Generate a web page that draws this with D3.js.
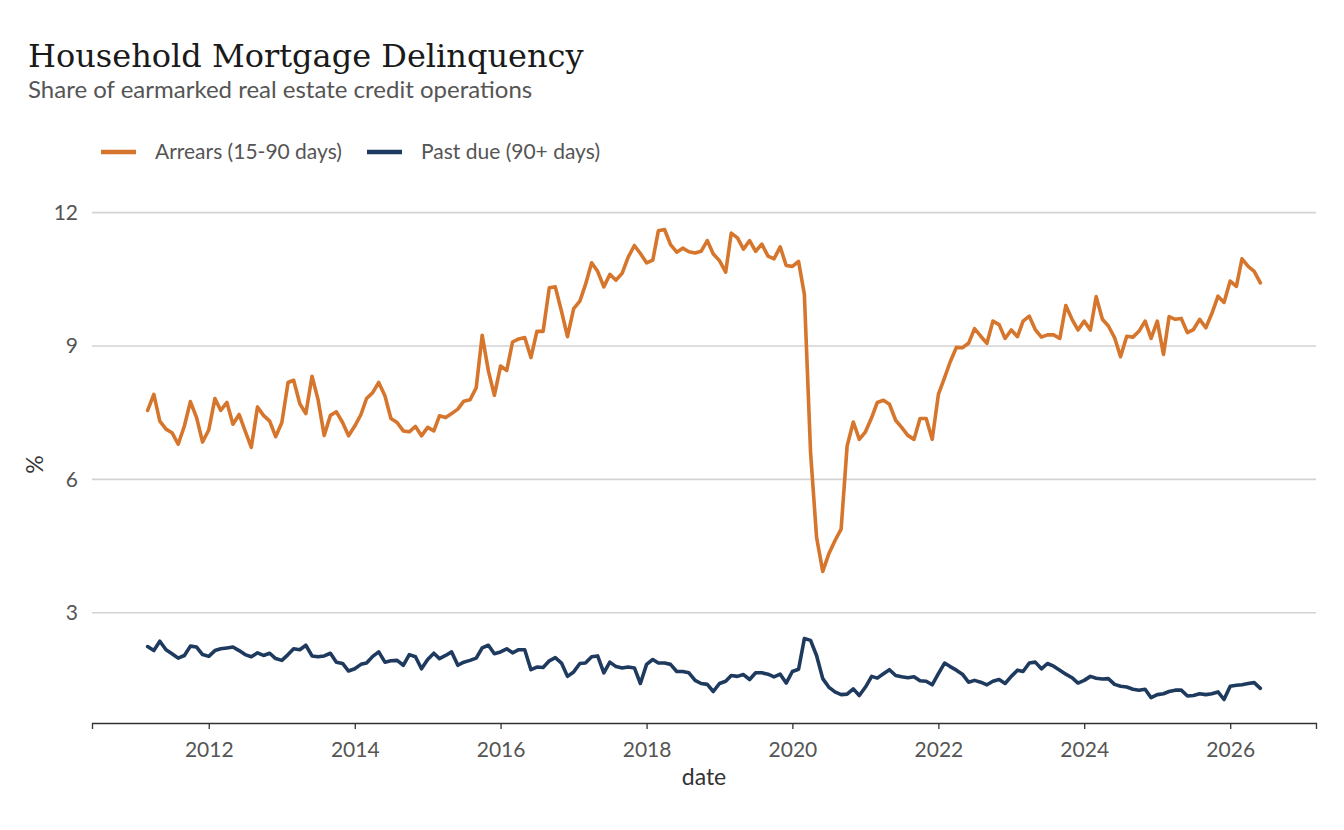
<!DOCTYPE html>
<html>
<head>
<meta charset="utf-8">
<script src="https://cdn.jsdelivr.net/npm/d3@7"></script>
<style>
  body { margin: 0; background: #fff; }
  svg { display: block; }
  .axis text { font-family: Lato, sans-serif; fill: #555; }
</style>
</head>
<body>
<div id="chart"></div>
<script>
/* DATA - monthly, Mar 2011 to Jun 2026 */
const firstMonth = new Date(2011, 2, 1);
const lastMonth = new Date(2026, 5, 1);

const arrears = [
  7.55, 7.91, 7.31, 7.13, 7.05, 6.79, 7.20, 7.75, 7.39, 6.84, 7.11, 7.82,
  7.55, 7.73, 7.24, 7.46, 7.09, 6.72, 7.63, 7.44, 7.31, 6.96, 7.28, 8.18,
  8.23, 7.70, 7.48, 8.32, 7.80, 6.99, 7.44, 7.52, 7.28, 6.98, 7.20, 7.46,
  7.82, 7.95, 8.18, 7.88, 7.37, 7.28, 7.09, 7.07, 7.19, 6.98, 7.17, 7.09,
  7.43, 7.39, 7.48, 7.58, 7.76, 7.79, 8.06, 9.24, 8.44, 7.89, 8.55, 8.45,
  9.09, 9.16, 9.19, 8.74, 9.33, 9.33, 10.31, 10.33, 9.78, 9.21, 9.84, 10.01,
  10.38, 10.87, 10.68, 10.33, 10.61, 10.48, 10.64, 11.00, 11.26, 11.08, 10.87, 10.93,
  11.59, 11.62, 11.28, 11.11, 11.20, 11.12, 11.09, 11.13, 11.37, 11.07, 10.92, 10.66,
  11.54, 11.43, 11.18, 11.37, 11.13, 11.29, 11.02, 10.96, 11.23, 10.81, 10.79, 10.90,
  10.16, 6.61, 4.70, 3.93, 4.32, 4.62, 4.88, 6.75, 7.29, 6.90, 7.07, 7.39,
  7.73, 7.78, 7.69, 7.33, 7.17, 6.99, 6.90, 7.37, 7.37, 6.90, 7.91, 8.29,
  8.64, 8.97, 8.96, 9.06, 9.39, 9.22, 9.06, 9.56, 9.48, 9.17, 9.36, 9.21,
  9.56, 9.67, 9.37, 9.20, 9.25, 9.25, 9.17, 9.91, 9.60, 9.36, 9.56, 9.36,
  10.11, 9.60, 9.45, 9.19, 8.76, 9.22, 9.20, 9.33, 9.56, 9.17, 9.56, 8.81,
  9.66, 9.60, 9.62, 9.30, 9.37, 9.60, 9.41, 9.73, 10.12, 9.98, 10.46, 10.34,
  10.96, 10.79, 10.68, 10.42
];

const pastDue = [
  2.24, 2.15, 2.36, 2.17, 2.08, 1.98, 2.04, 2.25, 2.23, 2.06, 2.02, 2.15,
  2.19, 2.21, 2.23, 2.15, 2.06, 2.01, 2.10, 2.04, 2.09, 1.97, 1.93, 2.06,
  2.19, 2.17, 2.27, 2.03, 2.01, 2.03, 2.09, 1.89, 1.86, 1.69, 1.74, 1.84,
  1.87, 2.02, 2.12, 1.89, 1.92, 1.93, 1.82, 2.06, 2.01, 1.74, 1.95, 2.09,
  1.97, 2.04, 2.12, 1.82, 1.89, 1.93, 1.98, 2.21, 2.27, 2.08, 2.12, 2.19,
  2.10, 2.17, 2.17, 1.72, 1.78, 1.77, 1.92, 1.99, 1.87, 1.57, 1.67, 1.86,
  1.87, 2.01, 2.03, 1.65, 1.89, 1.79, 1.76, 1.78, 1.76, 1.41, 1.84, 1.95,
  1.87, 1.87, 1.84, 1.68, 1.68, 1.65, 1.48, 1.41, 1.39, 1.23, 1.41, 1.46,
  1.59, 1.57, 1.61, 1.50, 1.65, 1.65, 1.62, 1.56, 1.62, 1.42, 1.68, 1.73,
  2.42, 2.38, 2.04, 1.52, 1.33, 1.22, 1.16, 1.17, 1.29, 1.14, 1.33, 1.57,
  1.53, 1.63, 1.72, 1.59, 1.56, 1.54, 1.56, 1.47, 1.46, 1.38, 1.63, 1.87,
  1.79, 1.71, 1.62, 1.44, 1.48, 1.44, 1.38, 1.46, 1.50, 1.41, 1.57, 1.71,
  1.68, 1.87, 1.89, 1.74, 1.86, 1.80, 1.71, 1.62, 1.54, 1.42, 1.48, 1.57,
  1.53, 1.51, 1.52, 1.39, 1.35, 1.33, 1.28, 1.26, 1.28, 1.09, 1.16, 1.18,
  1.23, 1.26, 1.26, 1.13, 1.14, 1.18, 1.16, 1.18, 1.22, 1.05, 1.35, 1.37,
  1.38, 1.41, 1.43, 1.30
];

const seriesNames = ["Arrears (15-90 days)", "Past due (90+ days)"];
const seriesColors = ["#D6752C", "#1F3A5F"];
const yTicks = [3, 6, 9, 12];

/* CONSTANTS */
const width = 1344,
  height = 830,
  margin = { top: 206, bottom: 107, left: 92, right: 28 };

const months = d3.timeMonth.range(firstMonth, d3.timeMonth.offset(lastMonth, 1));
const series = [arrears, pastDue].map((vals, k) => ({
  name: seriesNames[k],
  color: seriesColors[k],
  values: vals.map((v, i) => ({ date: months[i], value: v }))
}));

const svg = d3.select("#chart")
  .append("svg")
  .attr("width", width)
  .attr("height", height);

// 5% expansion on both axes, like ggplot
const xExt = d3.extent(months);
const xPad = (xExt[1] - xExt[0]) * 0.05;
const xScale = d3.scaleTime()
  .domain([new Date(+xExt[0] - xPad), new Date(+xExt[1] + xPad)])
  .range([margin.left, width - margin.right]);

const allVals = arrears.concat(pastDue);
const yExt = d3.extent(allVals);
const yPad = (yExt[1] - yExt[0]) * 0.05;
const yScale = d3.scaleLinear()
  .domain([yExt[0] - yPad, yExt[1] + yPad])
  .range([height - margin.bottom, margin.top]);

// TITLES
svg.append("text")
  .attr("x", 28).attr("y", 67)
  .attr("font-family", "'DejaVu Serif', serif")
  .attr("font-size", 32)
  .attr("fill", "#1a1a1a")
  .text("Household Mortgage Delinquency");

svg.append("text")
  .attr("x", 28).attr("y", 98)
  .attr("font-family", "Lato, sans-serif")
  .attr("font-size", 24)
  .attr("fill", "#555")
  .text("Share of earmarked real estate credit operations");

// LEGEND
const legendX = [101, 367];
const legend = svg.append("g").selectAll("g")
  .data(series)
  .join("g")
  .attr("transform", (d, i) => `translate(${legendX[i]},152)`);
legend.append("line")
  .attr("x1", 0).attr("x2", 35)
  .attr("stroke", d => d.color)
  .attr("stroke-width", 4.5);
legend.append("text")
  .attr("x", 54).attr("dy", "0.35em")
  .attr("font-family", "Lato, sans-serif")
  .attr("font-size", 21)
  .attr("fill", "#555")
  .text(d => d.name);

// GRID
svg.append("g")
  .selectAll("line")
  .data(yTicks)
  .join("line")
  .attr("x1", margin.left).attr("x2", width - margin.right)
  .attr("y1", d => yScale(d)).attr("y2", d => yScale(d))
  .attr("stroke", "#d3d3d6")
  .attr("stroke-width", 1.6);

// AXES
const yAxis = d3.axisLeft(yScale).tickValues(yTicks).tickSize(0).tickPadding(14);
svg.append("g")
  .attr("class", "axis y-axis")
  .attr("transform", `translate(${margin.left},0)`)
  .call(yAxis)
  .call(g => g.select(".domain").remove())
  .call(g => g.selectAll("text").attr("font-size", 21));

const xAxis = d3.axisBottom(xScale)
  .ticks(d3.timeYear.every(2))
  .tickFormat(d3.timeFormat("%Y"))
  .tickSizeOuter(0)
  .tickSize(6)
  .tickPadding(13);
svg.append("g")
  .attr("class", "axis x-axis")
  .attr("transform", `translate(0,${height - margin.bottom})`)
  .call(xAxis)
  .call(g => g.select(".domain").attr("stroke", "#333").attr("stroke-width", 1.3))
  .call(g => g.selectAll(".tick line").attr("stroke", "#333").attr("stroke-width", 1.3))
  .call(g => g.selectAll("text").attr("font-size", 21));

// axis titles
svg.append("text")
  .attr("x", (margin.left + width - margin.right) / 2)
  .attr("y", 785)
  .attr("text-anchor", "middle")
  .attr("font-family", "Lato, sans-serif")
  .attr("font-size", 23)
  .attr("fill", "#333")
  .text("date");

svg.append("text")
  .attr("transform", `translate(43,${(margin.top + height - margin.bottom) / 2}) rotate(-90)`)
  .attr("text-anchor", "middle")
  .attr("font-family", "Lato, sans-serif")
  .attr("font-size", 23)
  .attr("fill", "#333")
  .text("%");

// LINES
const line = d3.line()
  .x(d => xScale(d.date))
  .y(d => yScale(d.value));

svg.append("g")
  .selectAll("path")
  .data(series)
  .join("path")
  .attr("d", d => line(d.values))
  .attr("fill", "none")
  .attr("stroke", d => d.color)
  .attr("stroke-width", 3.6)
  .attr("stroke-linejoin", "round")
  .attr("stroke-linecap", "round");
</script>
</body>
</html>
